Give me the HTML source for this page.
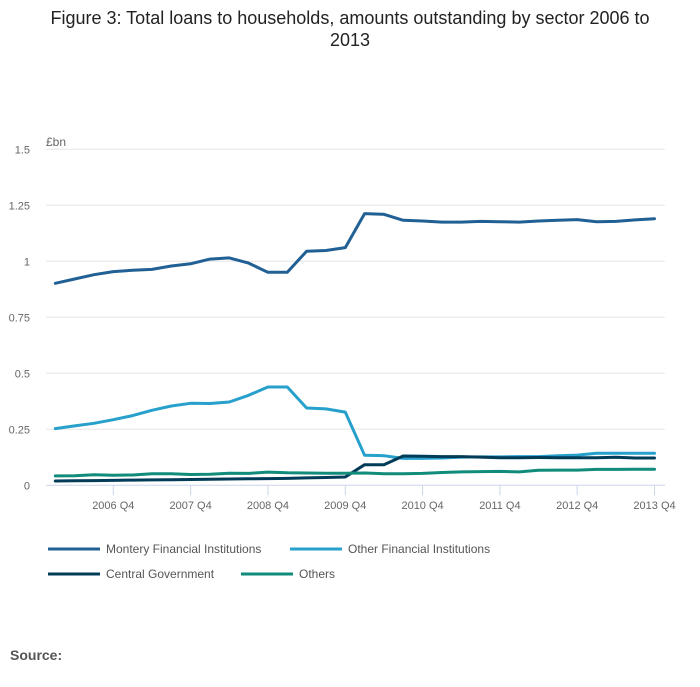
<!DOCTYPE html>
<html><head><meta charset="utf-8"><style>
html,body{margin:0;padding:0;background:#fff;}
body{width:700px;height:682px;overflow:hidden;font-family:"Liberation Sans",sans-serif;}
</style></head><body>
<svg id="chart" width="700" height="682" xmlns="http://www.w3.org/2000/svg" font-family="Liberation Sans, sans-serif">
<text x="350" y="24" text-anchor="middle" font-size="18" fill="#222">Figure 3: Total loans to households, amounts outstanding by sector 2006 to</text>
<text x="350" y="46" text-anchor="middle" font-size="18" fill="#222">2013</text>
<text x="46" y="146" font-size="12" fill="#666">£bn</text>
<g id="grid"></g><g id="xaxis"></g><g id="series"></g><g id="legend"></g>
<text x="10" y="660" font-size="14" font-weight="bold" fill="#555">Source:</text>
</svg>
<script>
const yTicks=[0,0.25,0.5,0.75,1,1.25,1.5];
const yTickLabels=["0","0.25","0.5","0.75","1","1.25","1.5"];
const xTickIndex=[3,7,11,15,19,23,27,31];
const xTickLabels=["2006 Q4","2007 Q4","2008 Q4","2009 Q4","2010 Q4","2011 Q4","2012 Q4","2013 Q4"];
const seriesNames=["Montery Financial Institutions","Other Financial Institutions","Central Government","Others"];
const mfi=[0.902,0.921,0.94,0.954,0.96,0.964,0.979,0.989,1.01,1.015,0.992,0.951,0.951,1.045,1.048,1.061,1.213,1.21,1.183,1.18,1.175,1.175,1.178,1.177,1.175,1.18,1.183,1.186,1.177,1.178,1.185,1.19];
const ofi=[0.253,0.265,0.277,0.293,0.311,0.335,0.354,0.366,0.365,0.372,0.402,0.439,0.439,0.345,0.341,0.327,0.134,0.132,0.12,0.12,0.122,0.126,0.127,0.127,0.128,0.128,0.132,0.135,0.143,0.143,0.143,0.143];
const cg=[0.019,0.02,0.021,0.022,0.023,0.024,0.025,0.026,0.027,0.028,0.029,0.03,0.031,0.033,0.035,0.037,0.092,0.092,0.131,0.13,0.128,0.128,0.126,0.123,0.123,0.124,0.123,0.123,0.123,0.125,0.122,0.122];
const others=[0.042,0.043,0.047,0.045,0.046,0.052,0.052,0.048,0.049,0.054,0.053,0.059,0.056,0.055,0.054,0.054,0.055,0.052,0.052,0.053,0.057,0.06,0.061,0.062,0.06,0.067,0.068,0.068,0.071,0.071,0.072,0.072];
const colors=["#206095","#27a0cc","#003c57","#118c7b"];
const NS="http://www.w3.org/2000/svg";
const x0=55.3,dx=19.33,y0=485.3,ky=224;
const X=i=>x0+dx*i, Y=v=>y0-v*ky;
function mk(t,a,p){const e=document.createElementNS(NS,t);for(const k in a)e.setAttribute(k,a[k]);p.appendChild(e);return e;}
const grid=document.getElementById('grid');
yTicks.forEach((v,i)=>{
 const l=mk('line',{x1:46,x2:665,y1:Y(v),y2:Y(v),stroke:i===0?'#ccd6eb':'#e6e6e6','stroke-width':1},grid);
 
 
 const t=mk('text',{x:30,y:Y(v)+4,'text-anchor':'end','font-size':11,fill:'#666'},grid);t.textContent=yTickLabels[i];
 
 
});
const xa=document.getElementById('xaxis');
xTickIndex.forEach((qi,i)=>{
 const l=mk('line',{x1:X(qi),x2:X(qi),y1:y0,y2:y0+10,stroke:'#ccd6eb'},xa);
 
 
 const t=mk('text',{x:X(qi),y:509,'text-anchor':'middle','font-size':11,fill:'#666'},xa);t.textContent=xTickLabels[i];
 
 
});
const sg=document.getElementById('series');
[mfi,ofi,cg,others].forEach((d,s)=>{
 const p=mk('path',{d:d.map((v,i)=>(i?'L':'M')+X(i).toFixed(1)+' '+Y(v).toFixed(1)).join(' '),fill:'none',stroke:colors[s],'stroke-width':3,'stroke-linejoin':'round','stroke-linecap':'round'},sg);
 
 
});
const lg=document.getElementById('legend');
const lpos=[[48,549],[290,549],[48,574],[241,574]];
seriesNames.forEach((n,s)=>{
 const [lx,ly]=lpos[s];
 const l=mk('line',{x1:lx,x2:lx+52,y1:ly,y2:ly,stroke:colors[s],'stroke-width':3},lg);
 
 
 const t=mk('text',{x:lx+58,y:ly+4,'font-size':12,fill:'#555'},lg);t.textContent=n;
 
 
});
</script>
</body></html>
